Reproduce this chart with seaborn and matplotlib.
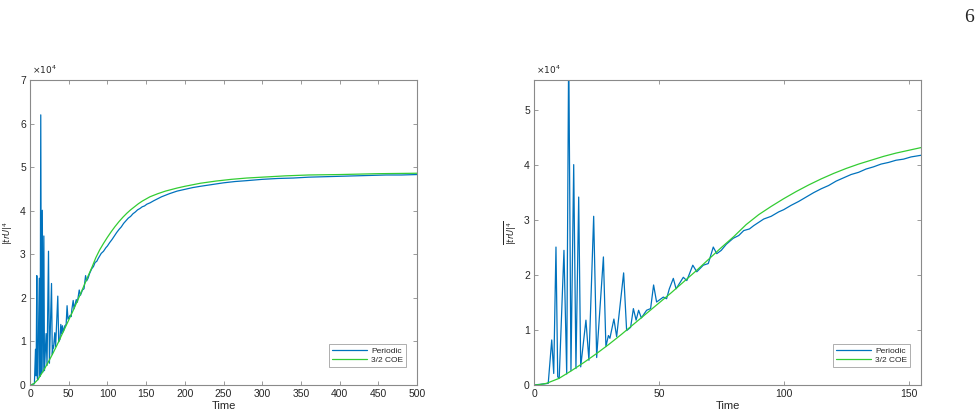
import matplotlib
matplotlib.use("Agg")
import matplotlib.pyplot as plt
import seaborn as sns
import pandas as pd

t_per = [0, 2, 4, 5.7, 7.1, 7.9, 8.8, 9.5, 10.1, 12.0, 13.1, 13.9, 14.8, 15.9, 16.8,
         17.9, 18.7, 20.8, 22.0, 23.9, 25.1, 27.8, 28.8, 29.8, 30.4, 32.0, 33.1, 35.9,
         37.1, 38.7, 39.8, 40.9, 41.9, 43.0, 45.1, 46.7, 47.9, 49.1, 51.8, 53.1, 54.2,
         55.8, 56.9, 59.8, 61.2, 63.6, 65.2, 67.8, 69.8, 71.8, 73.2, 75, 77, 79.8, 82,
         84, 86.3, 88, 90, 92, 95, 98, 100, 103, 106, 109, 112, 115, 118, 121, 124, 127,
         130, 133, 136, 139, 142, 145, 148, 151, 155, 160, 170, 180, 190, 200, 210, 220,
         235, 250, 265, 280, 300, 320, 340, 360, 380, 400, 420, 440, 460, 480, 500]
per = [0.0, 0.01, 0.02, 0.03, 0.82, 0.21, 2.51, 0.15, 0.12, 2.45, 0.20, 6.20, 0.26, 4.01, 0.30,
       3.42, 0.33, 1.18, 0.45, 3.07, 0.50, 2.33, 0.70, 0.90, 0.85, 1.20, 0.88, 2.04,
       0.99, 1.05, 1.39, 1.18, 1.36, 1.22, 1.36, 1.39, 1.82, 1.51, 1.60, 1.57, 1.75,
       1.94, 1.75, 1.96, 1.90, 2.18, 2.06, 2.18, 2.21, 2.51, 2.39, 2.45, 2.56, 2.67, 2.72,
       2.81, 2.84, 2.90, 2.96, 3.02, 3.07, 3.15, 3.19, 3.27, 3.34, 3.42, 3.50, 3.57, 3.63,
       3.71, 3.77, 3.83, 3.87, 3.93, 3.97, 4.02, 4.05, 4.09, 4.11, 4.15, 4.18, 4.23, 4.32,
       4.39, 4.45, 4.49, 4.53, 4.56, 4.60, 4.64, 4.67, 4.69, 4.72, 4.74, 4.75, 4.77, 4.78,
       4.79, 4.80, 4.81, 4.82, 4.82, 4.83]

# 3/2 COE
t_coe = [0, 2, 5, 10, 15, 20, 25, 30, 35, 40, 45, 50, 55, 60, 65, 70, 75, 80, 85, 90,
         95, 100, 105, 110, 115, 120, 125, 130, 135, 140, 145, 150, 155, 165, 175, 190,
         200, 220, 240, 260, 280, 300, 330, 360, 400, 450, 500]
coe = [0, 0.005, 0.03, 0.12, 0.26, 0.41, 0.57, 0.74, 0.92, 1.11, 1.30, 1.49, 1.68, 1.88,
       2.08, 2.29, 2.50, 2.70, 2.92, 3.10, 3.25, 3.39, 3.52, 3.64, 3.75, 3.85, 3.94, 4.02,
       4.09, 4.16, 4.22, 4.27, 4.32, 4.39, 4.45, 4.52, 4.56, 4.63, 4.68, 4.72, 4.75, 4.77,
       4.80, 4.82, 4.83, 4.85, 4.86]

df_per = pd.DataFrame({"Time": t_per, "val": per})
df_coe = pd.DataFrame({"Time": t_coe, "val": coe})

sns.set_style("ticks")
plt.rcParams["font.family"] = ["Liberation Sans", "DejaVu Sans"]

blue = "#0072BD"
green = "#33cc33"
spine = "#8a8a8a"

fig = plt.figure(figsize=(9.8, 4.17), dpi=100)
ax1 = fig.add_axes([30 / 980, 32 / 417, 387 / 980, 305 / 417])
ax2 = fig.add_axes([534 / 980, 32 / 417, 387 / 980, 305 / 417])

panels = [(ax1, 500, 7, list(range(0, 501, 50)), list(range(0, 8))),
          (ax2, 155, 5.55, [0, 50, 100, 150], list(range(0, 6)))]

for ax, xmax, ymax, xt, yt in panels:
    sns.lineplot(data=df_per, x="Time", y="val", ax=ax, color=blue, lw=0.9,
                 label="Periodic", estimator=None, sort=False)
    sns.lineplot(data=df_coe, x="Time", y="val", ax=ax, color=green, lw=0.9,
                 label="3/2 COE", estimator=None, sort=False)
    ax.set_xlim(0, xmax)
    ax.set_ylim(0, ymax)
    ax.set_xticks(xt)
    ax.set_yticks(yt)
    ax.tick_params(direction="in", top=True, right=True, length=3, width=0.6,
                   color=spine, labelsize=7.5, labelcolor="#262626", pad=3)
    for s in ax.spines.values():
        s.set_visible(True)
        s.set_color(spine)
        s.set_linewidth(0.8)
    ax.set_xlabel("Time", fontsize=8, color="#262626", labelpad=1)
    ax.set_ylabel(r"$\overline{|trU|^4}$", fontsize=6, color="#262626")
    ax.yaxis.set_label_coords(-14 / 387, 0.5)
    ax.text(0.005, 1.012, r"$\times10^4$", transform=ax.transAxes, fontsize=6.5,
            color="#262626", ha="left", va="bottom")
    leg = ax.legend(loc="lower right", bbox_to_anchor=(1 - 11 / 387, 18 / 305),
                    fontsize=6, frameon=True, fancybox=False, handlelength=4.2,
                    borderpad=0.35, labelspacing=0.2, handletextpad=0.5,
                    borderaxespad=0)
    leg.get_frame().set_edgecolor(spine)
    leg.get_frame().set_linewidth(0.6)

fig.text(969 / 980, 1 - 18 / 417, "6", fontsize=14, family="Liberation Serif",
         ha="center", va="center")

fig.savefig("out.png", dpi=100)
